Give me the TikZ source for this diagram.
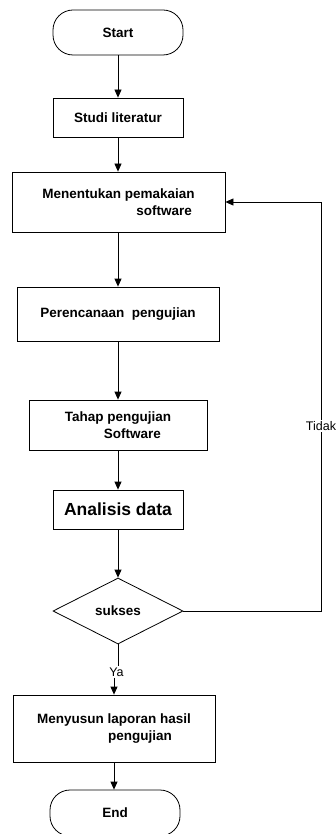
\documentclass[tikz,border=0pt]{standalone}
\usepackage{fontspec}
\setmainfont{Liberation Sans}
\usetikzlibrary{arrows.meta,shapes.geometric}
\begin{document}
\begin{tikzpicture}[x=1pt,y=-1pt,
  box/.style={draw, line width=0.8pt, inner sep=0pt, align=left,
    font=\bfseries\fontsize{13.5}{16.5}\selectfont},
  term/.style={box, rounded corners=20pt},
  dec/.style={draw, diamond, line width=0.8pt, inner sep=0pt, aspect=1.97,
    minimum width=130pt, minimum height=66pt,
    font=\bfseries\fontsize{13.5}{16.5}\selectfont},
  arr/.style={-{Triangle[width=7pt,length=8pt]}, line width=0.8pt},
  ln/.style={line width=0.8pt},
  lab/.style={fill=white, inner sep=1pt, font=\fontsize{12.5}{14}\selectfont}
]
\useasboundingbox (0,0) rectangle (336,834);
\clip (0,0) rectangle (336,834);

\node[term, minimum width=130pt, minimum height=45pt] (start) at (118,32.5) {Start};
\node[box, minimum width=130pt, minimum height=39pt] (studi) at (118,117.5) {Studi literatur};
\node[box, minimum width=213pt, minimum height=60pt] (ment) at (118.5,202) {Menentukan pemakaian\\\hspace*{94pt}software};
\node[box, minimum width=202pt, minimum height=54pt] (renc) at (118,314) {Perencanaan~~pengujian};
\node[box, minimum width=178pt, minimum height=50pt] (tahap) at (118,425) {Tahap pengujian\\\hspace*{39pt}Software};
\node[box, minimum width=130pt, minimum height=39pt, font=\bfseries\fontsize{17.5}{20}\selectfont] (anal) at (118,509.5) {Analisis data};
\node[dec] (suk) at (118,611) {sukses};
\node[box, minimum width=202pt, minimum height=67pt] (lap) at (114,728.5) {Menyusun laporan hasil\\\hspace*{71pt}pengujian};
\node[term, minimum width=130pt, minimum height=46pt, font=\bfseries\fontsize{13.5}{16.5}\selectfont] (end) at (115,813) {End};

\draw[arr] (start.south) -- (studi.north);
\draw[arr] (studi.south) -- (studi.south |- ment.north);
\draw[arr] (ment.south -| studi.south) -- (studi.south |- renc.north);
\draw[arr] (renc.south) -- (tahap.north);
\draw[arr] (tahap.south) -- (anal.north);
\draw[arr] (anal.south) -- (suk.north);

\node[lab] (ya) at (116.5,672) {Ya};
\draw[ln] (suk.south) -- (suk.south |- ya.north);
\draw[arr] (ya.south -| lap.north) -- (lap.north);

\coordinate (c1) at (321,611);
\draw[arr] (suk.east) -- (c1) |- (ment.east);
\node[lab] (tidak) at (321,426) {Tidak};

\draw[arr] (lap.south) -- (lap.south |- end.north);
\end{tikzpicture}
\end{document}
